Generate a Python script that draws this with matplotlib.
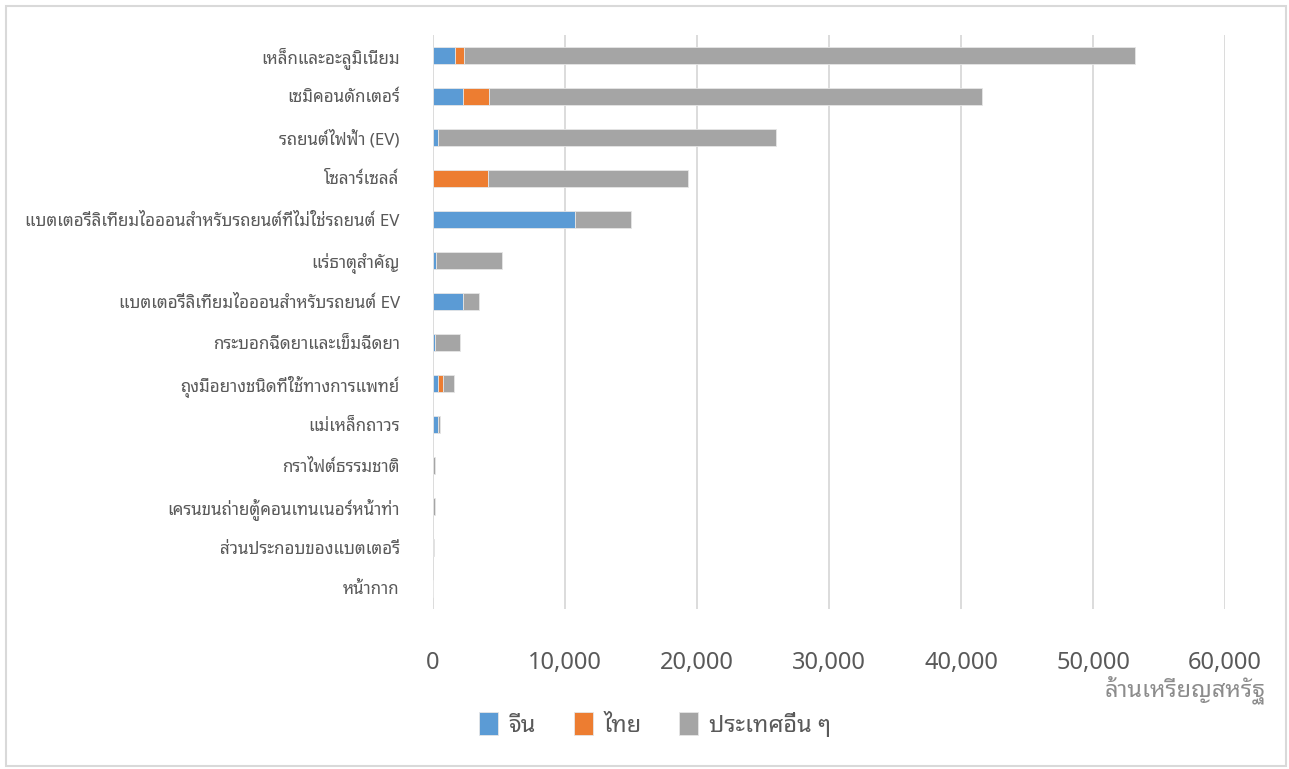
import matplotlib
matplotlib.use("Agg")
import matplotlib.pyplot as plt
from matplotlib.patches import Rectangle
from matplotlib.ticker import FuncFormatter
import numpy as np

plt.rcParams['font.family'] = ['Noto Sans Thai Looped', 'DejaVu Sans']
plt.rcParams['font.weight'] = 'light'

categories = [
    "เหล็กและอะลูมิเนียม",
    "เซมิคอนดักเตอร์",
    "รถยนต์ไฟฟ้า (EV)",
    "โซลาร์เซลล์",
    "แบตเตอรี่ลิเทียมไอออนสำหรับรถยนต์ที่ไม่ใช่รถยนต์ EV",
    "แร่ธาตุสำคัญ",
    "แบตเตอรี่ลิเทียมไอออนสำหรับรถยนต์ EV",
    "กระบอกฉีดยาและเข็มฉีดยา",
    "ถุงมือยางชนิดที่ใช้ทางการแพทย์",
    "แม่เหล็กถาวร",
    "กราไฟต์ธรรมชาติ",
    "เครนขนถ่ายตู้คอนเทนเนอร์หน้าท่า",
    "ส่วนประกอบของแบตเตอรี่",
    "หน้ากาก",
]
china = [1670, 2300, 380, 0, 10760, 230, 2300, 180, 380, 400, 20, 10, 10, 5]
thailand = [680, 1940, 0, 4170, 0, 0, 0, 0, 380, 0, 0, 0, 0, 0]
others = [50830, 37350, 25600, 15170, 4260, 5000, 1210, 1840, 830, 130, 110, 120, 30, 10]

series_names = ["จีน", "ไทย", "ประเทศอื่น ๆ"]
colors = ["#5B9BD5", "#ED7D31", "#A5A5A5"]
x_ticks = [0, 10000, 20000, 30000, 40000, 50000, 60000]
x_title = "ล้านเหรียญสหรัฐ"

fig = plt.figure(figsize=(12.89, 7.69), dpi=100)
ax = fig.add_axes([433 / 1289, 1 - 609 / 769, (1225 - 433) / 1289, 574 / 769])

y = np.arange(len(categories))
left = np.zeros(len(categories))
for vals, name, c in zip([china, thailand, others], series_names, colors):
    vals = np.array(vals, dtype=float)
    ax.barh(y, vals, left=left, height=0.4, color=c, label=name,
            edgecolor="#e6e6e6", linewidth=0.6, zorder=3)
    left += vals

ax.set_ylim(len(categories) - 0.5, -0.5)
ax.set_xlim(0, 60000)
ax.set_xticks(x_ticks)
ax.xaxis.set_major_formatter(FuncFormatter(lambda v, p: f"{int(v):,}"))
ax.set_yticks(y)
ax.set_yticklabels(categories)
ax.grid(axis="x", color="#d9d9d9", linewidth=1.3, zorder=0)
for s in ax.spines.values():
    s.set_visible(False)
ax.tick_params(axis="x", length=0, pad=30, labelsize=17, labelcolor="#595959")
ax.tick_params(axis="y", length=0, pad=24, labelsize=12.2, labelcolor="#595959")

fig.text(1265 / 1289, 1 - 690 / 769, x_title, ha="right", va="center",
         fontsize=17, color="#8c8c8c")

fig.legend(loc="center", bbox_to_anchor=(655 / 1289, 1 - 725 / 769), ncol=3,
           frameon=False, fontsize=17, handlelength=0.8, handleheight=1.1,
           handletextpad=0.45, columnspacing=1.6, labelcolor="#595959")

fig.patches.append(Rectangle((6 / 1289, 3 / 769), 1280 / 1289, 760 / 769,
                             transform=fig.transFigure, fill=False,
                             edgecolor="#d9d9d9", linewidth=1.5))

fig.savefig("out.png")
